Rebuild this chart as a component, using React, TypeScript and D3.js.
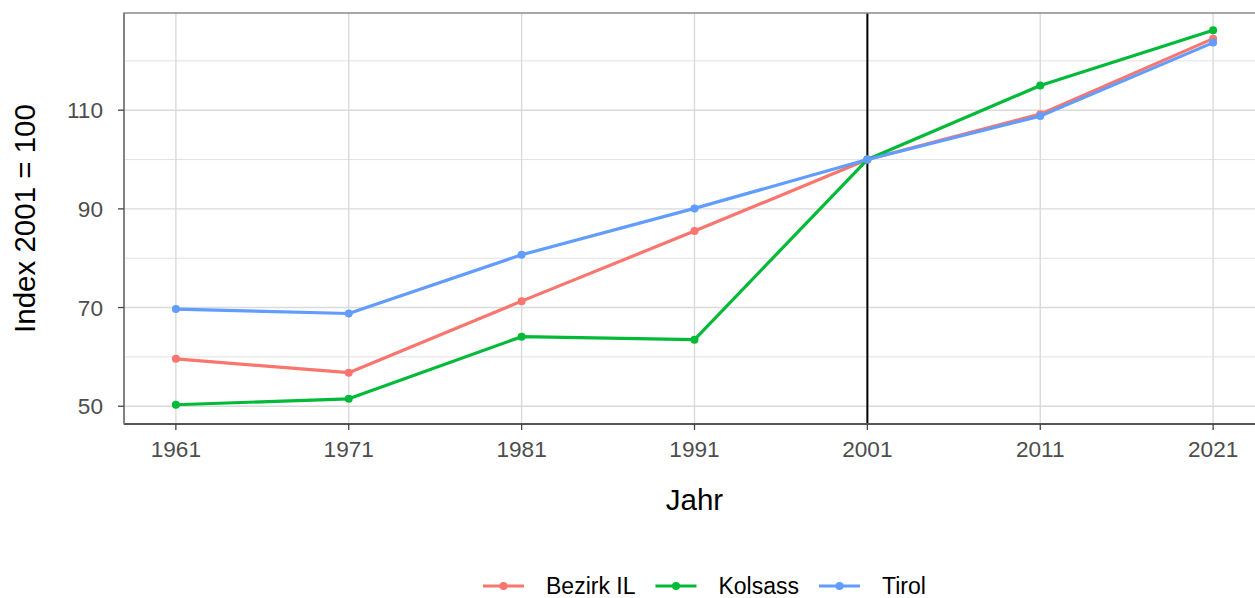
import React from "react";
import * as d3 from "d3";

const years = [1961, 1971, 1981, 1991, 2001, 2011, 2021];
const bezirkIL = [59.6, 56.8, 71.3, 85.5, 100, 109.2, 124.5];
const kolsass = [50.3, 51.5, 64.1, 63.5, 100, 115.0, 126.2];
const tirol = [69.7, 68.8, 80.7, 90.1, 100, 108.8, 123.7];
const seriesNames = ["Bezirk IL", "Kolsass", "Tirol"];
const seriesColors = ["#F8766D", "#00BA38", "#619CFF"];
const yTicks = [50, 70, 90, 110];
const yMinor = [60, 80, 100, 120];
const refYear = 2001;

const W = 1255;
const H = 598;
const left = 124;
const right = 1265;
const top = 13;
const bottom = 424;
const font = "Arial, 'Liberation Sans', sans-serif";

function measure(text: string, size: number): number {
  if (typeof document === "undefined") return text.length * size * 0.55;
  const c = document.createElement("canvas");
  const ctx = c.getContext("2d");
  if (!ctx) return text.length * size * 0.55;
  ctx.font = `${size}px Arial, 'Liberation Sans', sans-serif`;
  return ctx.measureText(text).width;
}

export default function App() {
  const x = d3.scaleLinear().domain([1958, 2024]).range([left, right]);
  const y = d3.scaleLinear().domain([46.4, 129.7]).range([bottom, top]);
  const data = [bezirkIL, kolsass, tirol];
  const line = d3
    .line<number>()
    .x((_, i) => x(years[i]))
    .y((v) => y(v));

  // legend layout
  const keyW = 41;
  const textGap = 22;
  const itemGap = 20;
  const legendSize = 23;
  let lx = 483;
  const legendItems = seriesNames.map((name, i) => {
    const start = lx;
    const tw = measure(name, legendSize);
    lx = start + keyW + textGap + tw + itemGap;
    return { name, color: seriesColors[i], start };
  });
  const legendY = 586;

  return (
    <svg
      width={W}
      height={H}
      style={{ position: "absolute", left: 0, top: 0, background: "#fff" }}
    >
      <defs>
        <clipPath id="panel">
          <rect x={left} y={top} width={right - left} height={bottom - top} />
        </clipPath>
      </defs>
      <rect x={0} y={0} width={W} height={H} fill="#fff" />
      {/* minor grid */}
      {yMinor.map((v) => (
        <line key={"ym" + v} x1={left} x2={right} y1={y(v)} y2={y(v)} stroke="#dedede" strokeWidth={0.9} />
      ))}
      {/* major grid */}
      {yTicks.map((v) => (
        <line key={"yg" + v} x1={left} x2={right} y1={y(v)} y2={y(v)} stroke="#dadada" strokeWidth={1.4} />
      ))}
      {years.map((v) => (
        <line key={"xg" + v} x1={x(v)} x2={x(v)} y1={top} y2={bottom} stroke="#dadada" strokeWidth={1.4} />
      ))}
      {/* reference line */}
      <line x1={x(refYear)} x2={x(refYear)} y1={top} y2={bottom} stroke="#000" strokeWidth={2} />
      {/* series */}
      <g clipPath="url(#panel)">
        {data.map((vals, si) => (
          <g key={seriesNames[si]}>
            <path d={line(vals) || ""} fill="none" stroke={seriesColors[si]} strokeWidth={3.2} strokeLinejoin="round" />
            {vals.map((v, i) => (
              <circle key={i} cx={x(years[i])} cy={y(v)} r={4} fill={seriesColors[si]} />
            ))}
          </g>
        ))}
      </g>
      {/* panel border */}
      <rect x={left} y={top} width={right - left} height={bottom - top} fill="none" stroke="#8a8a8a" strokeWidth={1.5} />
      <line x1={left} x2={right} y1={bottom} y2={bottom} stroke="#555" strokeWidth={2} />
      <line x1={left} x2={left} y1={top} y2={bottom} stroke="#777" strokeWidth={1.5} />
      {/* y axis */}
      {yTicks.map((v) => (
        <g key={"yt" + v}>
          <line x1={left - 6} x2={left} y1={y(v)} y2={y(v)} stroke="#444" strokeWidth={1.3} />
          <text x={left - 21} y={y(v)} dy="0.36em" textAnchor="end" fontFamily={font} fontSize={22.6} fill="#4d4d4d">
            {v}
          </text>
        </g>
      ))}
      {/* x axis */}
      {years.map((v) => (
        <g key={"xt" + v}>
          <line x1={x(v)} x2={x(v)} y1={bottom} y2={bottom + 6} stroke="#444" strokeWidth={1.3} />
          <text x={x(v)} y={457} textAnchor="middle" fontFamily={font} fontSize={22.6} fill="#4d4d4d">
            {v}
          </text>
        </g>
      ))}
      <text x={(left + right) / 2} y={510} textAnchor="middle" fontFamily={font} fontSize={29.5} fill="#000">
        Jahr
      </text>
      <text
        transform={`translate(35, ${(top + bottom) / 2}) rotate(-90)`}
        textAnchor="middle"
        fontFamily={font}
        fontSize={29.5}
        fill="#000"
      >
        Index 2001 = 100
      </text>
      {/* legend */}
      {legendItems.map((it) => (
        <g key={it.name}>
          <line x1={it.start} x2={it.start + keyW} y1={legendY} y2={legendY} stroke={it.color} strokeWidth={3.2} />
          <circle cx={it.start + keyW / 2} cy={legendY} r={4} fill={it.color} />
          <text x={it.start + keyW + textGap} y={legendY} dy="0.36em" fontFamily={font} fontSize={legendSize} fill="#000">
            {it.name}
          </text>
        </g>
      ))}
    </svg>
  );
}
